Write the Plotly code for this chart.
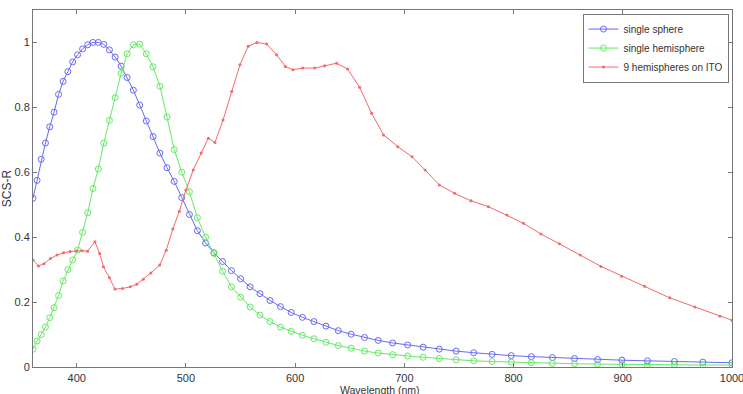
import plotly.graph_objects as go

# Shared wavelength grid for the single sphere / single hemisphere spectra (nm)
wl_single = [360.0, 363.7, 367.5, 371.4, 375.3, 379.3, 383.4, 387.6, 391.9, 396.3,
             400.8, 405.4, 410.1, 414.9, 419.8, 424.8, 430.0, 435.2, 440.7, 446.2,
             451.9, 457.7, 463.7, 469.9, 476.2, 482.7, 489.3, 496.2, 503.2, 510.5,
             518.0, 525.6, 533.6, 541.7, 550.1, 558.8, 567.8, 577.0, 586.6, 596.4,
             606.7, 617.2, 628.2, 639.5, 651.3, 663.5, 676.1, 689.3, 703.0, 717.2,
             732.0, 747.4, 763.5, 780.4, 797.9, 816.3, 835.6, 855.8, 876.9, 899.2,
             922.6, 947.3, 973.3, 1000.0]

sphere = [0.52, 0.575, 0.64, 0.69, 0.74, 0.785, 0.84, 0.88, 0.91, 0.94,
          0.962, 0.98, 0.993, 1.0, 1.0, 0.994, 0.977, 0.955, 0.927, 0.892,
          0.853, 0.807, 0.758, 0.71, 0.659, 0.614, 0.572, 0.522, 0.47, 0.42,
          0.382, 0.352, 0.325, 0.297, 0.272, 0.247, 0.226, 0.205, 0.186, 0.168,
          0.153, 0.14, 0.126, 0.112, 0.101, 0.091, 0.082, 0.074, 0.068, 0.061,
          0.055, 0.049, 0.044, 0.039, 0.035, 0.032, 0.029, 0.026, 0.023, 0.021,
          0.019, 0.017, 0.015, 0.013]

hemisphere = [0.055, 0.08, 0.1, 0.123, 0.152, 0.183, 0.22, 0.265, 0.3, 0.33,
              0.36, 0.415, 0.475, 0.55, 0.61, 0.69, 0.76, 0.83, 0.905, 0.965,
              0.993, 0.995, 0.965, 0.925, 0.865, 0.77, 0.67, 0.6, 0.54, 0.46,
              0.4, 0.35, 0.295, 0.247, 0.215, 0.185, 0.16, 0.14, 0.123, 0.11,
              0.098, 0.087, 0.076, 0.066, 0.058, 0.049, 0.043, 0.038, 0.034, 0.03,
              0.026, 0.022, 0.019, 0.017, 0.015, 0.013, 0.011, 0.010, 0.009, 0.008,
              0.007, 0.007, 0.006, 0.006]

# 9 hemispheres on ITO
wl_ito = [360, 365, 370, 376, 382, 388, 394, 400, 405, 410,
          416.7, 421, 424.5, 430, 435, 442, 449, 455, 461, 468,
          476, 482, 488, 494, 500, 506.7, 514, 520.5, 526.6, 534,
          542, 549.5, 557, 565, 574, 583, 591, 598, 607, 618,
          627, 638, 648, 659, 670, 681, 694, 707, 719, 732,
          746, 761, 777, 794, 809, 825, 842, 861, 880, 899,
          920, 943, 966, 989, 1000]
ito = [0.33, 0.311, 0.318, 0.334, 0.345, 0.352, 0.356, 0.358, 0.358, 0.357,
       0.386, 0.35, 0.309, 0.275, 0.24, 0.242, 0.247, 0.255, 0.27, 0.29,
       0.314, 0.36, 0.425, 0.48, 0.545, 0.607, 0.659, 0.705, 0.692, 0.761,
       0.849, 0.931, 0.988, 1.0, 0.995, 0.962, 0.926, 0.916, 0.921, 0.921,
       0.928, 0.936, 0.918, 0.862, 0.782, 0.715, 0.679, 0.648, 0.607, 0.561,
       0.535, 0.512, 0.494, 0.468, 0.443, 0.41, 0.38, 0.345, 0.31, 0.28,
       0.249, 0.213, 0.185, 0.156, 0.144]

x_ticks = [400, 500, 600, 700, 800, 900, 1000]
y_ticks = [0, 0.2, 0.4, 0.6, 0.8, 1]
y_ticktext = ["0", "0.2", "0.4", "0.6", "0.8", "1"]

names = ["single sphere", "single hemisphere", "9 hemispheres on ITO"]
colors = ["rgb(105,105,245)", "rgb(100,235,100)", "rgb(245,105,105)"]

fig = go.Figure()
fig.add_trace(go.Scatter(x=wl_single, y=sphere, name=names[0], mode="lines+markers",
                         line=dict(color=colors[0], width=1),
                         marker=dict(symbol="circle-open", size=6, color=colors[0], line=dict(width=1))))
fig.add_trace(go.Scatter(x=wl_single, y=hemisphere, name=names[1], mode="lines+markers",
                         line=dict(color=colors[1], width=1),
                         marker=dict(symbol="circle-open", size=6, color=colors[1], line=dict(width=1))))
fig.add_trace(go.Scatter(x=wl_ito, y=ito, name=names[2], mode="lines+markers",
                         line=dict(color=colors[2], width=1),
                         marker=dict(symbol="circle", size=3, color=colors[2])))

FONT = "Liberation Sans, Arial"
axis_common = dict(showline=True, linecolor="#777", linewidth=1, mirror="ticks",
                   ticks="inside", ticklen=4, tickcolor="#777", showgrid=False,
                   zeroline=False, ticklabeloverflow="allow", automargin=False,
                   tickfont=dict(family=FONT, size=11, color="#333"))

fig.update_xaxes(range=[360, 1000], tickvals=x_ticks, ticklabelstandoff=1,
                 **axis_common)
fig.update_yaxes(range=[0, 1.1], tickvals=y_ticks, ticktext=y_ticktext,
                 ticklabelstandoff=0,
                 title=dict(text="SCS-R", standoff=0,
                            font=dict(family=FONT, size=12, color="#333")),
                 **axis_common)

fig.add_annotation(text="Wavelength (nm)", xref="paper", yref="paper", x=0.497, y=0,
                   xanchor="center", yanchor="top", yshift=-15, showarrow=False,
                   font=dict(family=FONT, size=10.5, color="#333"))

fig.update_layout(width=743, height=394, margin=dict(l=33, r=11, t=10, b=27),
                  plot_bgcolor="white", paper_bgcolor="white",
                  legend=dict(x=0.995, y=0.99, xanchor="right", yanchor="top",
                              bgcolor="white", bordercolor="#777", borderwidth=1,
                              font=dict(family=FONT, size=10, color="#333"),
                              tracegroupgap=0, itemwidth=30))

fig.write_html("out.html")
